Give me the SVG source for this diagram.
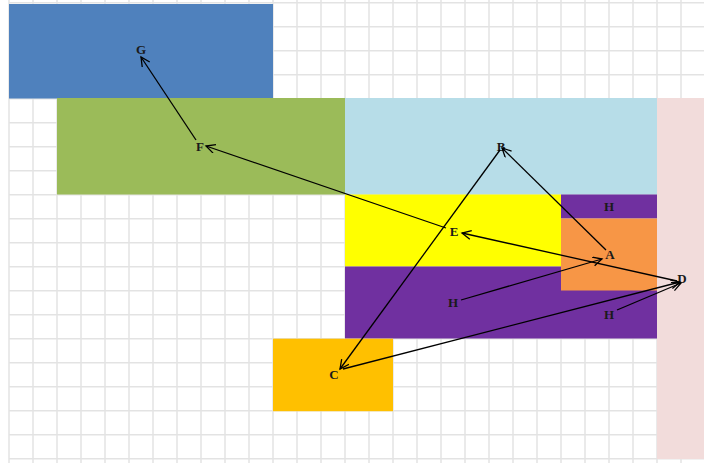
<svg xmlns="http://www.w3.org/2000/svg" width="704" height="463" viewBox="0 0 704 463">
<style>
.grid line{stroke:#e3e3e3;stroke-width:1.5}
.lbl{font-family:"Liberation Serif","Times New Roman",serif;font-weight:bold;font-size:13px;fill:#1a1a1a;text-anchor:middle}
.edge{stroke:#000;stroke-width:1.3;fill:none;marker-end:url(#ah)}
</style>
<defs>
<marker id="ah" markerUnits="userSpaceOnUse" markerWidth="12" markerHeight="12" refX="10" refY="5" orient="auto">
<path d="M1,0.5 L10,5 L1,9.5" fill="none" stroke="#000" stroke-width="1.3"/>
</marker>
</defs>
<rect width="704" height="463" fill="#fff"/>
<g class="grid">
<line x1="9" y1="0" x2="9" y2="463"/><line x1="33" y1="0" x2="33" y2="463"/><line x1="57" y1="0" x2="57" y2="463"/><line x1="81" y1="0" x2="81" y2="463"/><line x1="105" y1="0" x2="105" y2="463"/><line x1="129" y1="0" x2="129" y2="463"/><line x1="153" y1="0" x2="153" y2="463"/><line x1="177" y1="0" x2="177" y2="463"/><line x1="201" y1="0" x2="201" y2="463"/><line x1="225" y1="0" x2="225" y2="463"/><line x1="249" y1="0" x2="249" y2="463"/><line x1="273" y1="0" x2="273" y2="463"/><line x1="297" y1="0" x2="297" y2="463"/><line x1="321" y1="0" x2="321" y2="463"/><line x1="345" y1="0" x2="345" y2="463"/><line x1="369" y1="0" x2="369" y2="463"/><line x1="393" y1="0" x2="393" y2="463"/><line x1="417" y1="0" x2="417" y2="463"/><line x1="441" y1="0" x2="441" y2="463"/><line x1="465" y1="0" x2="465" y2="463"/><line x1="489" y1="0" x2="489" y2="463"/><line x1="513" y1="0" x2="513" y2="463"/><line x1="537" y1="0" x2="537" y2="463"/><line x1="561" y1="0" x2="561" y2="463"/><line x1="585" y1="0" x2="585" y2="463"/><line x1="609" y1="0" x2="609" y2="463"/><line x1="633" y1="0" x2="633" y2="463"/><line x1="657" y1="0" x2="657" y2="463"/><line x1="681" y1="0" x2="681" y2="463"/>
<line x1="9" y1="2.7" x2="704" y2="2.7"/><line x1="9" y1="26.7" x2="704" y2="26.7"/><line x1="9" y1="50.7" x2="704" y2="50.7"/><line x1="9" y1="74.7" x2="704" y2="74.7"/><line x1="9" y1="98.7" x2="704" y2="98.7"/><line x1="9" y1="122.7" x2="704" y2="122.7"/><line x1="9" y1="146.7" x2="704" y2="146.7"/><line x1="9" y1="170.7" x2="704" y2="170.7"/><line x1="9" y1="194.7" x2="704" y2="194.7"/><line x1="9" y1="218.7" x2="704" y2="218.7"/><line x1="9" y1="242.7" x2="704" y2="242.7"/><line x1="9" y1="266.7" x2="704" y2="266.7"/><line x1="9" y1="290.7" x2="704" y2="290.7"/><line x1="9" y1="314.7" x2="704" y2="314.7"/><line x1="9" y1="338.7" x2="704" y2="338.7"/><line x1="9" y1="362.7" x2="704" y2="362.7"/><line x1="9" y1="386.7" x2="704" y2="386.7"/><line x1="9" y1="410.7" x2="704" y2="410.7"/><line x1="9" y1="434.7" x2="704" y2="434.7"/><line x1="9" y1="458.7" x2="704" y2="458.7"/>
</g>
<g id="node-G"><rect x="9" y="4" width="264" height="94.5" fill="#4F81BD"/><text class="lbl" x="141" y="54">G</text></g>
<g id="node-F"><rect x="57" y="98" width="288" height="96.5" fill="#9BBB59"/><text class="lbl" x="200" y="151">F</text></g>
<g id="node-B"><rect x="345" y="98" width="312" height="96.5" fill="#B7DDE8"/><text class="lbl" x="501" y="151">B</text></g>
<g id="node-D"><rect x="657" y="98" width="47" height="361" fill="#F2DCDB"/><text class="lbl" x="682" y="283">D</text></g>
<g id="node-E"><rect x="345" y="194.5" width="216" height="72" fill="#FFFF00"/><text class="lbl" x="454" y="236">E</text></g>
<g id="node-H1"><rect x="561" y="194.5" width="96" height="24" fill="#7030A0"/><text class="lbl" x="609" y="211">H</text></g>
<g id="node-H2"><rect x="345" y="266.5" width="312" height="72" fill="#7030A0"/><text class="lbl" x="453" y="307">H</text><text class="lbl" x="609" y="319">H</text></g>
<g id="node-A"><rect x="561" y="218.5" width="96" height="72" fill="#F79646"/><text class="lbl" x="610" y="259">A</text></g>
<g id="node-C"><rect x="273" y="338.7" width="120" height="72.5" fill="#FFC000"/><text class="lbl" x="334" y="379">C</text></g>
<g id="connectors">
<line class="edge" x1="196" y1="140" x2="141" y2="57"/>
<line class="edge" x1="446" y1="228" x2="206" y2="146"/>
<line class="edge" x1="677" y1="281" x2="462" y2="233"/>
<line class="edge" x1="606" y1="250" x2="502" y2="148"/>
<line class="edge" x1="500" y1="150" x2="340" y2="369"/>
<line class="edge" x1="461" y1="300" x2="602" y2="259"/>
<line class="edge" x1="343" y1="369" x2="680" y2="282"/>
<line class="edge" x1="617" y1="310" x2="681" y2="283"/>
</g>
</svg>
